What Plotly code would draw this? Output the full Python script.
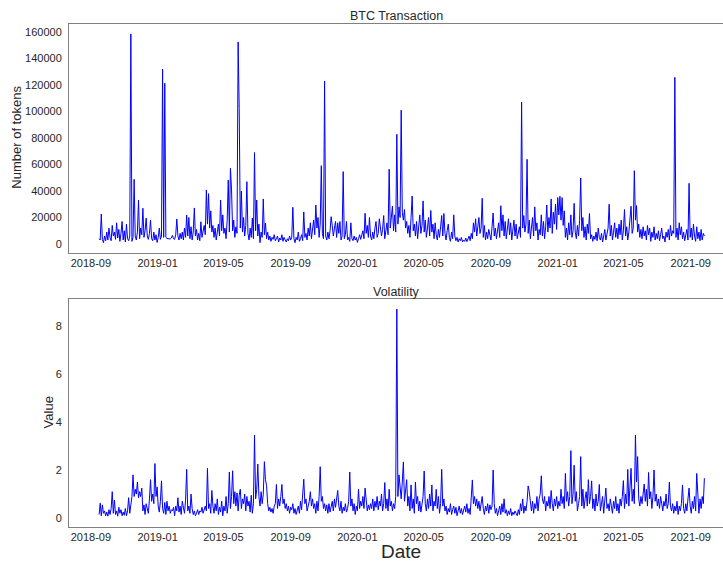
import pandas as pd
import plotly.graph_objects as go

# ---------------- data (2-day samples, 2018-09-16 .. 2021-09-26) ----------------
start_date = "2018-09-16"
n_points = 554

btc_tokens = [
    4000, 3000, 22600, 3500, 1000, 6000, 2500, 9000, 3000, 12000, 5000, 2500, 14000, 6000, 9000,
    3500, 16000, 4500, 11000, 2000, 8000, 17000, 3000, 10000, 1500, 15000, 4000, 2500, 6000, 158500,
    2000, 5000, 48800, 6000, 3000, 9000, 33200, 4000, 12000, 7000, 27000, 5000, 10000, 19600, 6000,
    3500, 8000, 18000, 4000, 2500, 9000, 3000, 7000, 1200, 5000, 12000, 3500, 6000, 132000, 5000,
    121300, 5000, 4200, 4000, 4300, 3800, 4500, 6500, 4000, 3500, 7000, 18900, 6000, 3000, 8000,
    4000, 9000, 3000, 12000, 5000, 21900, 6000, 20000, 4000, 13000, 3000, 9000, 27200, 6000, 11000,
    3000, 8000, 2500, 16800, 5000, 10000, 14000, 7000, 40800, 15000, 38000, 12000, 25000, 9000, 14000,
    5000, 12000, 3000, 9000, 15000, 6000, 33200, 10000, 22000, 8000, 12000, 4000, 18000, 48300, 9000,
    57100, 40800, 10000, 18000, 5000, 13000, 8000, 152500, 102400, 12000, 40000, 9000, 20000, 6000, 14000,
    47000, 8000, 3000, 12000, 5000, 19600, 4000, 69000, 10000, 33200, 6000, 15000, 1000, 9000, 5000,
    34000, 7000, 15800, 4000, 9000, 3000, 6000, 2000, 5000, 3500, 7000, 2500, 4000, 6000, 1500,
    4500, 3000, 7000, 2000, 5000, 3000, 1500, 4000, 2500, 6000, 3000, 5000, 27700, 4000, 1000,
    5000, 3000, 9000, 2000, 4000, 7000, 2500, 24200, 5000, 8000, 3000, 12000, 6000, 16000, 4000,
    10000, 18000, 7000, 29400, 12000, 20000, 5000, 15000, 59100, 8000, 4000, 123000, 6000, 3000, 9000,
    4000, 10000, 20600, 14000, 6000, 12000, 17000, 5000, 16000, 8000, 17000, 3000, 6000, 54600, 4000,
    7000, 17000, 3000, 5000, 2000, 16000, 4000, 2500, 6000, 3000, 5000, 1200, 4000, 7000, 3500,
    6000, 10000, 4000, 23200, 8000, 14000, 5000, 20000, 6000, 3000, 9000, 4000, 12000, 17000, 5000,
    8000, 19000, 14000, 6000, 11000, 21500, 4000, 9000, 16000, 7000, 56400, 12000, 20000, 28500, 10000,
    22000, 9000, 82800, 15000, 28000, 20000, 101000, 24000, 18000, 26000, 12000, 17000, 8000, 14000, 5000,
    20000, 36200, 10000, 15000, 6000, 17000, 4000, 12000, 22000, 8000, 14000, 32500, 9000, 18000, 5000,
    12000, 20000, 6000, 25300, 9000, 15000, 4000, 16000, 7000, 3000, 11000, 5000, 13000, 21500, 6000,
    23000, 8000, 3000, 10000, 15000, 5000, 2000, 9000, 4000, 22000, 6000, 2500, 5000, 1500, 4000,
    2500, 5000, 1500, 3000, 2000, 4500, 1800, 3500, 6000, 2500, 8000, 4000, 16000, 9000, 19000,
    6000, 15000, 20000, 8000, 12000, 34500, 5000, 14000, 3000, 9000, 4000, 11000, 7000, 3000, 13000,
    23400, 6000, 12000, 4000, 9000, 16000, 5000, 28900, 10000, 22000, 6000, 17000, 4000, 14000, 19000,
    7000, 16000, 3000, 12000, 18000, 6000, 15000, 4000, 10000, 13000, 5000, 107000, 12000, 21500, 9000,
    15000, 63900, 8000, 18000, 4000, 12000, 20000, 6000, 28000, 10000, 16000, 3000, 11000, 7000, 22000,
    6000, 17000, 4000, 13000, 29400, 9000, 20000, 12000, 34000, 8000, 24000, 15000, 30000, 11000, 35000,
    22000, 36000, 18000, 35000, 14000, 25000, 5000, 12000, 3000, 16000, 7000, 22000, 5000, 10000, 30700,
    9000, 4000, 14000, 6000, 18000, 49800, 10000, 20000, 5000, 13000, 3000, 15000, 8000, 23000, 4000,
    7000, 2000, 6000, 3500, 9000, 2500, 12000, 5000, 3000, 8000, 1500, 6000, 11000, 3000, 7000,
    12000, 30000, 6000, 14000, 3000, 9000, 16000, 5000, 12000, 4000, 15000, 7000, 18000, 3000, 10000,
    26000, 6000, 13000, 3000, 9000, 17000, 28500, 8000, 12000, 55300, 18000, 29000, 9000, 15000, 5000,
    11000, 4000, 13000, 6000, 10000, 3000, 14000, 7000, 12000, 2000, 9000, 5000, 13000, 3000, 8000,
    4000, 10000, 2500, 7000, 12000, 4000, 6000, 1500, 9000, 5000, 11000, 3000, 14000, 6000, 10000,
    8000, 125800, 5000, 12000, 3000, 16000, 7000, 13000, 4000, 9000, 2500, 6000, 11000, 3000, 45800,
    5000, 12000, 3000, 15000, 6000, 2000, 13000, 4000, 9000, 2500, 11000, 3000, 8000, 6000,
]

volatility = [
    0.15, 0.62, 0.1, 0.55, 0.2, 0.3, 0.1, 0.25, 0.08, 0.35, 0.15, 0.4, 1.1, 0.2, 0.75,
    0.15, 0.3, 0.08, 0.45, 0.2, 0.35, 0.1, 0.25, 0.12, 0.4, 0.1, 0.3, 0.85, 0.2, 0.6,
    0.9, 1.8, 0.9, 1.2, 1.0, 1.5, 0.85, 1.1, 0.9, 1.25, 0.3, 0.55, 0.15, 0.6, 0.35,
    0.2, 0.8, 1.6, 0.7, 1.0, 0.6, 2.27, 0.9, 1.3, 0.5, 0.25, 0.7, 1.55, 0.4, 0.2,
    0.65, 0.15, 0.7, 0.3, 0.5, 0.2, 0.35, 0.3, 0.45, 0.1, 0.5, 0.3, 0.85, 0.25, 0.5,
    0.15, 0.7, 0.4, 0.2, 0.75, 2.03, 0.3, 0.5, 0.2, 1.0, 0.4, 0.15, 0.3, 0.1, 0.2,
    0.35, 0.15, 0.3, 0.25, 0.45, 0.2, 0.35, 0.5, 0.3, 2.07, 0.4, 0.6, 0.2, 1.15, 0.5,
    0.2, 0.6, 0.3, 0.8, 0.15, 0.45, 0.25, 0.7, 0.1, 0.5, 0.3, 0.9, 0.2, 0.6, 1.92,
    0.4, 0.9, 1.97, 0.6, 1.1, 0.5, 1.05, 0.3, 0.95, 1.2, 0.4, 0.8, 0.6, 1.0, 0.3,
    0.9, 0.5, 0.7, 0.25, 0.95, 0.2, 0.6, 3.46, 0.8, 1.2, 2.25, 0.9, 0.5, 1.1, 0.6,
    1.0, 2.35, 1.6, 1.35, 0.6, 0.3, 0.45, 0.25, 0.4, 0.2, 0.5, 0.6, 1.4, 0.4, 0.8,
    0.5, 0.9, 1.4, 0.6, 0.8, 0.4, 0.6, 0.3, 0.5, 0.2, 0.45, 0.35, 0.6, 0.2, 0.4,
    0.15, 0.3, 0.5, 0.2, 0.7, 0.35, 0.9, 1.62, 0.6, 0.8, 0.3, 0.5, 0.7, 1.1, 0.5,
    0.8, 0.4, 0.6, 0.2, 0.7, 0.3, 0.9, 2.14, 0.7, 0.9, 0.4, 0.6, 0.3, 0.55, 0.2,
    0.6, 0.25, 0.5, 0.7, 0.3, 0.8, 0.45, 0.9, 1.15, 0.5, 0.3, 0.7, 0.2, 0.45, 0.3,
    0.6, 0.25, 0.4, 0.7, 1.92, 0.5, 0.8, 0.3, 0.6, 0.15, 0.5, 0.3, 1.2, 0.4, 0.7,
    0.5, 0.9, 0.4, 1.25, 0.6, 0.3, 0.55, 0.35, 0.6, 0.4, 0.8, 0.3, 0.7, 0.45, 0.9,
    0.35, 0.7, 0.5, 1.0, 0.3, 0.6, 1.48, 0.4, 0.8, 0.3, 1.2, 0.5, 0.7, 0.3, 0.6,
    0.4, 0.9, 8.7, 0.9, 1.8, 1.2, 0.8, 1.5, 2.34, 0.7, 1.1, 1.6, 0.5, 0.9, 0.3,
    1.38, 0.4, 0.8, 0.2, 1.5, 0.6, 0.9, 0.3, 0.7, 0.25, 0.5, 0.9, 1.96, 0.6, 0.3,
    0.8, 0.4, 1.0, 0.5, 1.38, 0.3, 0.7, 0.5, 1.2, 0.4, 0.9, 0.2, 0.6, 2.03, 0.5,
    0.8, 0.3, 0.5, 0.15, 0.4, 0.25, 0.6, 0.15, 0.35, 0.5, 0.2, 0.45, 0.1, 0.3, 0.5,
    0.2, 0.4, 0.15, 0.3, 0.5, 0.25, 0.6, 0.2, 0.4, 0.15, 0.7, 1.59, 0.6, 0.9, 0.5,
    0.8, 0.4, 0.7, 0.3, 0.6, 0.9, 0.4, 0.15, 0.5, 0.3, 0.6, 0.2, 0.55, 0.35, 0.5,
    2.0, 0.6, 0.2, 0.4, 0.1, 0.3, 0.5, 0.15, 0.6, 0.25, 0.8, 0.2, 0.35, 0.1, 0.3,
    0.15, 0.4, 0.1, 0.25, 0.15, 0.3, 0.2, 0.1, 0.35, 0.15, 0.6, 0.3, 0.8, 0.2, 0.5,
    0.3, 0.7, 1.34, 1.1, 0.5, 0.3, 0.7, 0.2, 0.6, 0.4, 0.9, 0.3, 0.8, 1.0, 1.76,
    0.8, 0.6, 0.9, 0.3, 0.7, 0.5, 0.9, 0.4, 1.15, 0.6, 0.3, 0.8, 0.5, 0.9, 0.4,
    0.7, 0.5, 1.2, 0.6, 0.9, 0.4, 1.86, 0.7, 1.1, 0.5, 0.9, 2.81, 0.6, 1.0, 2.2,
    0.7, 1.1, 0.3, 0.6, 0.9, 2.56, 0.5, 1.2, 0.4, 0.8, 1.1, 0.5, 1.6, 0.6, 0.9,
    1.55, 0.4, 0.8, 0.3, 1.0, 0.5, 0.7, 1.4, 0.3, 0.6, 0.9, 0.2, 0.7, 1.25, 0.4,
    0.6, 0.3, 0.8, 0.5, 0.2, 0.7, 0.4, 0.9, 0.3, 0.6, 0.2, 0.8, 0.5, 0.9, 1.56,
    0.4, 1.0, 0.6, 2.03, 0.5, 1.1, 2.07, 0.7, 1.2, 0.6, 3.46, 1.5, 2.56, 0.8, 0.5,
    0.9, 0.6, 1.0, 1.42, 0.7, 1.2, 0.5, 1.9, 0.8, 1.1, 0.4, 0.9, 2.0, 0.7, 1.0,
    0.5, 0.8, 0.4, 0.9, 0.6, 0.3, 0.7, 0.5, 1.0, 0.4, 0.6, 1.5, 0.5, 0.3, 0.6,
    0.2, 0.5, 0.3, 0.7, 0.15, 0.5, 0.3, 0.6, 1.38, 0.4, 0.2, 0.6, 0.3, 0.8, 1.25,
    0.5, 0.2, 0.7, 0.4, 0.9, 0.3, 1.86, 0.6, 0.2, 0.8, 0.4, 0.9, 0.6, 1.66,
]

tick_dates = ["2018-09-01", "2019-01-01", "2019-05-01", "2019-09-01", "2020-01-01",
              "2020-05-01", "2020-09-01", "2021-01-01", "2021-05-01", "2021-09-01"]
tick_labels = ["2018-09", "2019-01", "2019-05", "2019-09", "2020-01",
               "2020-05", "2020-09", "2021-01", "2021-05", "2021-09"]
btc_ticks = [0, 20000, 40000, 60000, 80000, 100000, 120000, 140000, 160000]
vol_ticks = [0, 2, 4, 6, 8]

dates = pd.date_range(start_date, periods=n_points, freq="2D")

# ---------------- figure ----------------
FONT = "Liberation Sans, Arial, sans-serif"
TXT = "#262626"
SPINE = "#808080"
LINE = "#0000ff"

fig = go.Figure()
fig.add_trace(go.Scatter(x=dates, y=btc_tokens, mode="lines",
                         line=dict(color=LINE, width=1), xaxis="x", yaxis="y",
                         showlegend=False))
fig.add_trace(go.Scatter(x=dates, y=volatility, mode="lines",
                         line=dict(color=LINE, width=1), xaxis="x2", yaxis="y2",
                         showlegend=False))

xcommon = dict(type="date", range=["2018-07-23", "2021-10-30"],
               tickvals=tick_dates, ticktext=tick_labels,
               showgrid=False, zeroline=False, showline=True, mirror=True,
               linecolor=SPINE, linewidth=1, ticks="", automargin=False,
               tickfont=dict(family=FONT, size=11, color=TXT))
ycommon = dict(showgrid=False, zeroline=False, showline=True, mirror=True,
               linecolor=SPINE, linewidth=1, ticks="", ticklabelstandoff=4,
               automargin=False,
               tickfont=dict(family=FONT, size=11, color=TXT))

# plot area: 24 px from top, 35 px from bottom -> 503 px tall
fig.update_layout(
    width=723, height=562,
    margin=dict(l=69, r=0, t=24, b=35),
    paper_bgcolor="white", plot_bgcolor="white",
    xaxis=dict(domain=[0, 1], anchor="y", **xcommon),
    yaxis=dict(domain=[0.5447, 1], anchor="x", range=[-6800, 166000],
               tickvals=btc_ticks, tickformat="d", **ycommon),
    xaxis2=dict(domain=[0, 0.4533][0:0] or [0, 1], anchor="y2", **xcommon),
    yaxis2=dict(domain=[0, 0.4533], anchor="x2", range=[-0.37, 9.12],
                tickvals=vol_ticks, **ycommon),
    annotations=[
        dict(text="BTC Transaction", x=0.5, y=1.016, xref="paper", yref="paper",
             xanchor="center", yanchor="middle", showarrow=False,
             font=dict(family=FONT, size=12.5, color=TXT)),
        dict(text="Volatility", x=0.5, y=0.467, xref="paper", yref="paper",
             xanchor="center", yanchor="middle", showarrow=False,
             font=dict(family=FONT, size=12.5, color=TXT)),
        dict(text="Number of tokens", x=-0.0795, y=0.774, xref="paper", yref="paper",
             xanchor="center", yanchor="middle", textangle=-90, showarrow=False,
             font=dict(family=FONT, size=13, color=TXT)),
        dict(text="Value", x=-0.032, y=0.228, xref="paper", yref="paper",
             xanchor="center", yanchor="middle", textangle=-90, showarrow=False,
             font=dict(family=FONT, size=13, color=TXT)),
        dict(text="Date", x=0.508, y=-0.0497, xref="paper", yref="paper",
             xanchor="center", yanchor="middle", showarrow=False,
             font=dict(family=FONT, size=19, color=TXT)),
    ],
)

fig.write_html("out.html",
               config={"displayModeBar": False},
               post_script="document.body.style.margin='0px';"
                           "document.body.style.overflow='hidden';")
